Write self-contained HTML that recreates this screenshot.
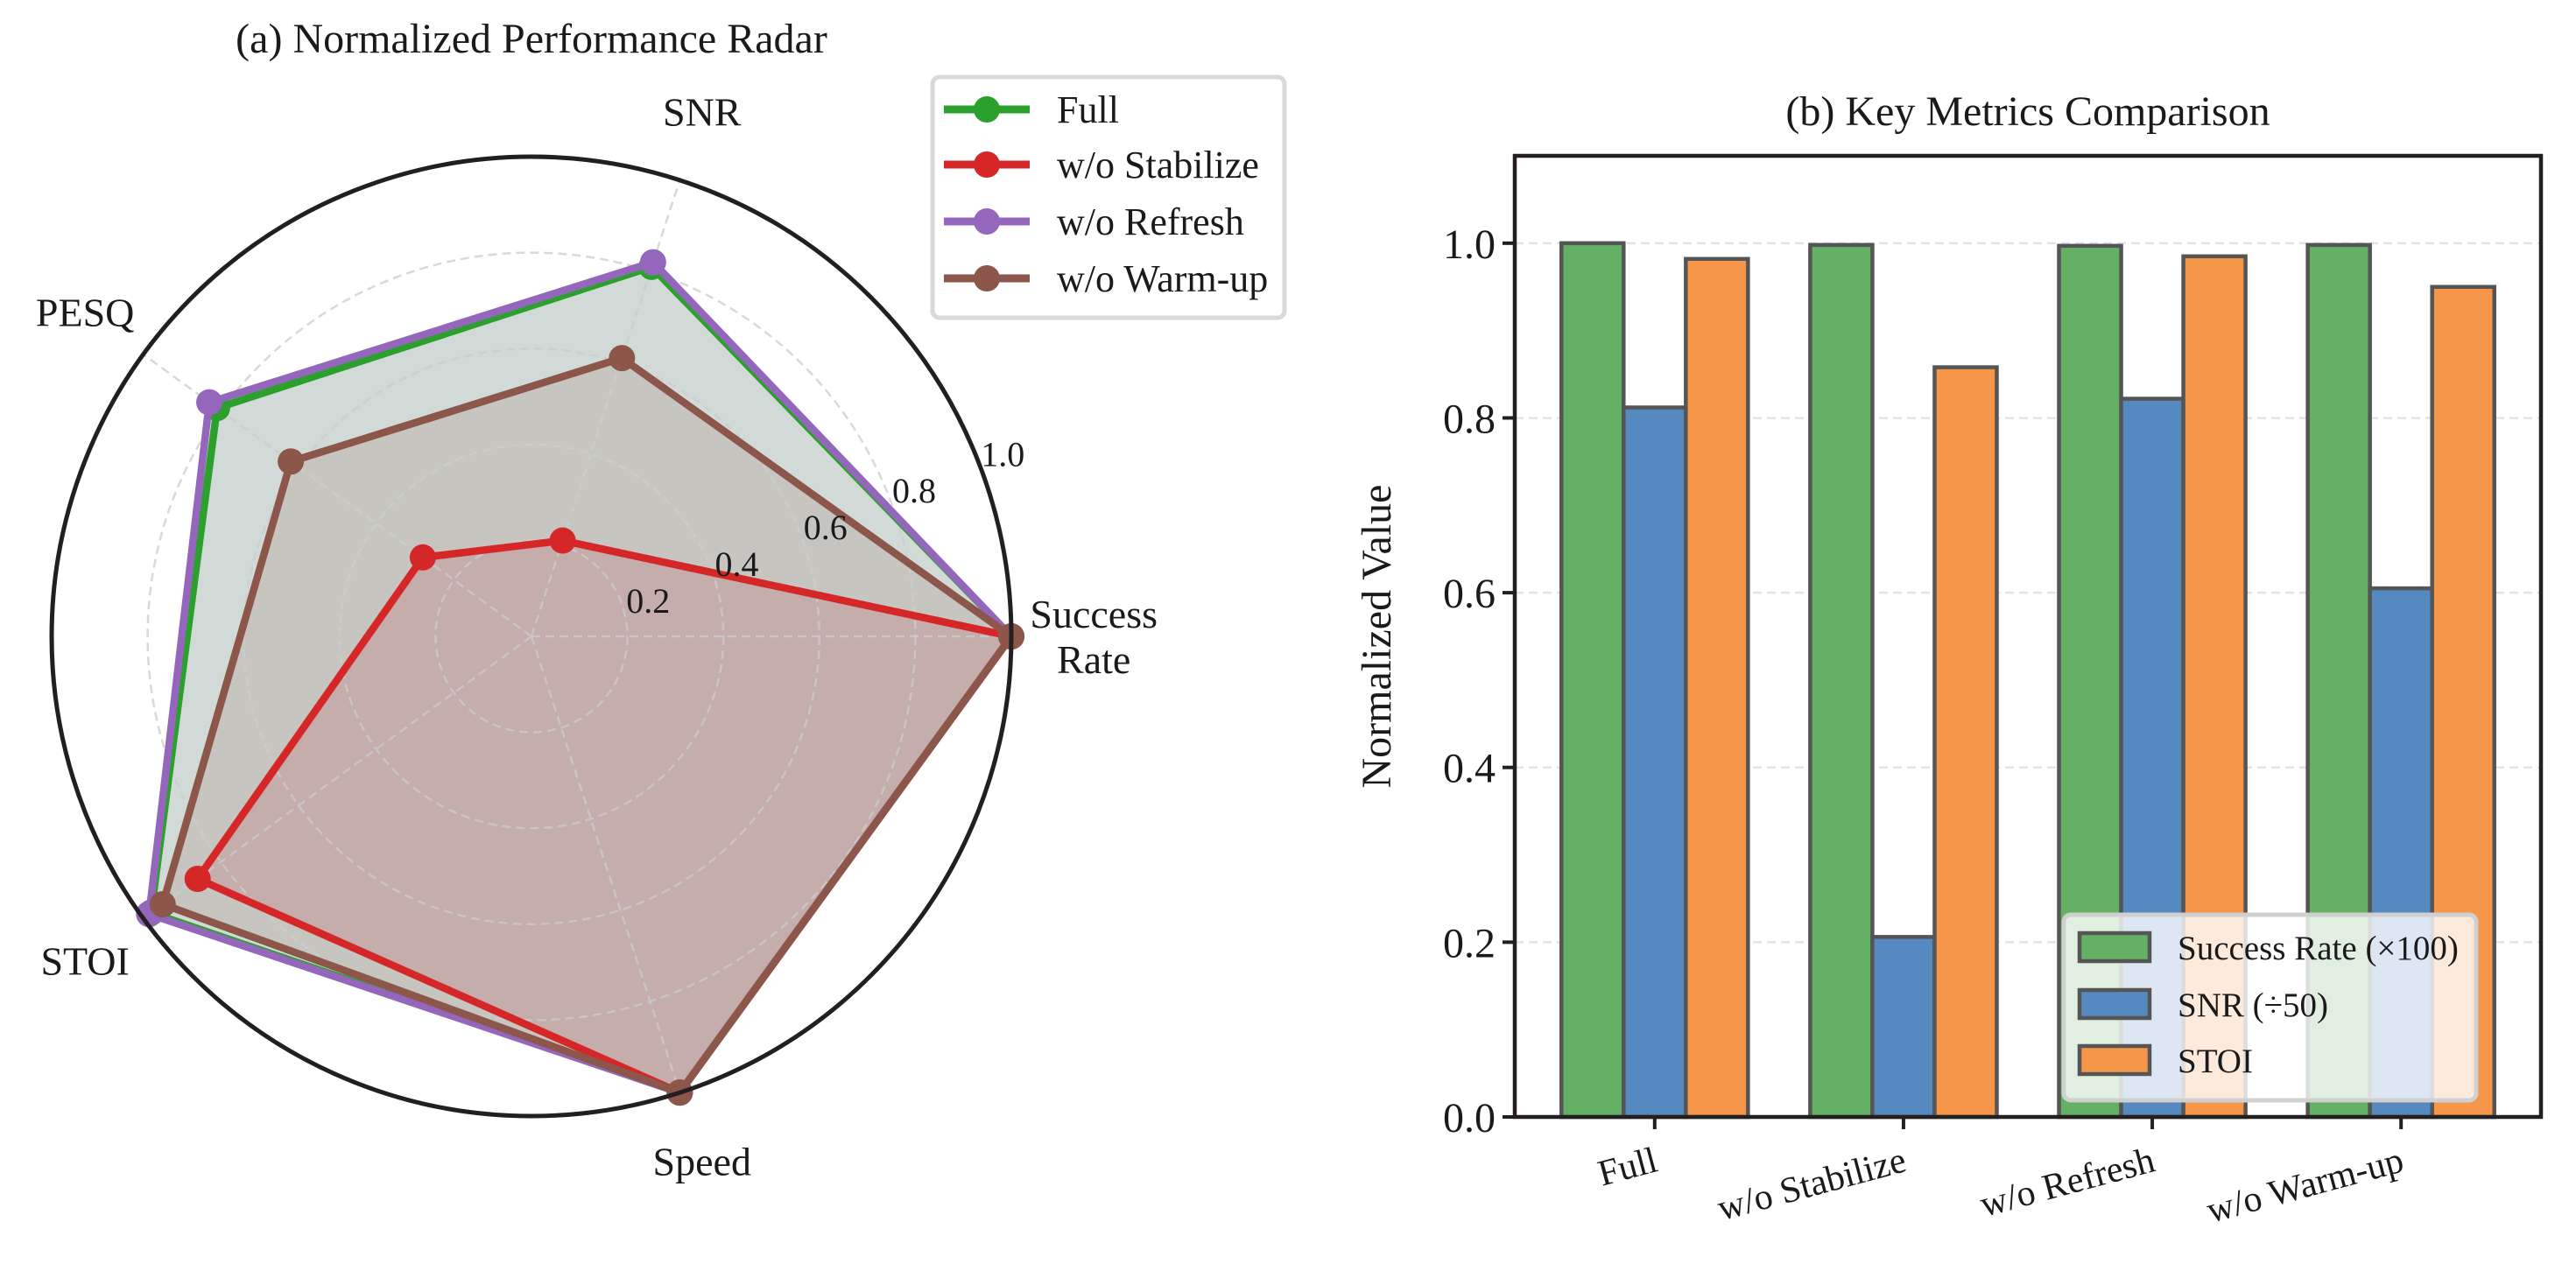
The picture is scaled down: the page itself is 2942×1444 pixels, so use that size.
<!DOCTYPE html>
<html><head><meta charset="utf-8"><style>
html,body{margin:0;padding:0;background:#fff;}
svg{display:block;font-family:"Liberation Serif","DejaVu Serif",serif;}
</style></head><body>
<svg id="fig" width="2942" height="1444" viewBox="0 0 2942 1444" xmlns="http://www.w3.org/2000/svg">
<g id="radar"></g>
<g id="bars"></g>
</svg>
<script>
// ---------- Radar data ----------
const radarAxes = ["Success\nRate", "SNR", "PESQ", "STOI", "Speed"];
const radarSeriesNames = ["Full", "w/o Stabilize", "w/o Refresh", "w/o Warm-up"];
const radarFull = [1.0, 0.81, 0.81, 0.98, 1.0];
const radarStabilize = [1.0, 0.21, 0.28, 0.86, 1.0];
const radarRefresh = [1.0, 0.82, 0.83, 0.985, 1.0];
const radarWarmup = [1.0, 0.61, 0.62, 0.95, 1.0];
const radarTicks = ["0.2", "0.4", "0.6", "0.8", "1.0"];
const radarTickVals = [0.2, 0.4, 0.6, 0.8, 1.0];

// ---------- Bar data ----------
const barCategories = ["Full", "w/o Stabilize", "w/o Refresh", "w/o Warm-up"];
const barSeriesNames = ["Success Rate (×100)", "SNR (÷50)", "STOI"];
const barSuccess = [1.0, 0.998, 0.997, 0.998];
const barSNR = [0.812, 0.206, 0.822, 0.605];
const barSTOI = [0.982, 0.858, 0.985, 0.950];
const barYTicks = [0.0, 0.2, 0.4, 0.6, 0.8, 1.0];
const barYTickLabels = ["0.0", "0.2", "0.4", "0.6", "0.8", "1.0"];

const NS = "http://www.w3.org/2000/svg";
function mk(parent, tag, attrs, text) {
  const e = document.createElementNS(NS, tag);
  for (const k in attrs) e.setAttribute(k, attrs[k]);
  if (text !== undefined) e.textContent = text;
  parent.appendChild(e);
  return e;
}

// ================= RADAR =================
(function () {
  const g = document.getElementById("radar");
  const cx = 607, cy = 727, R = 548;
  const n = radarAxes.length;
  const ang = i => i * 2 * Math.PI / n;
  const px = (i, v) => cx + Math.cos(ang(i)) * v * R;
  const py = (i, v) => cy - Math.sin(ang(i)) * v * R;

  const title = mk(g, "text", {x: 607, y: 60, "text-anchor": "middle", "font-size": 48, fill: "#1a1a1a"}, "(a) Normalized Performance Radar");
  
  

  const colors = ["#2ca02c", "#d62728", "#9467bd", "#8c564b"];
  const series = [radarFull, radarStabilize, radarRefresh, radarWarmup];
  const keys = ["full", "stabilize", "refresh", "warmup"];

  series.forEach((vals, s) => {
    const pts = vals.map((v, i) => px(i, v).toFixed(1) + "," + py(i, v).toFixed(1)).join(" ");
    const f = mk(g, "polygon", {points: pts, fill: colors[s], "fill-opacity": 0.16, stroke: "none"});
    
    
  });

  const grid = mk(g, "g", {});
  
  
  radarTickVals.slice(0, 4).forEach(v => {
    const c = mk(grid, "circle", {cx, cy, r: v * R, fill: "none", stroke: "#cccccc", "stroke-opacity": 0.75, "stroke-width": 2.5, "stroke-dasharray": "10,6"});
    
    
  });
  for (let i = 0; i < n; i++) {
    const l = mk(grid, "line", {x1: cx, y1: cy, x2: px(i, 1), y2: py(i, 1), stroke: "#cccccc", "stroke-opacity": 0.75, "stroke-width": 2.5, "stroke-dasharray": "10,6"});
    
    
  }

  series.forEach((vals, s) => {
    const pts = vals.map((v, i) => px(i, v).toFixed(1) + "," + py(i, v).toFixed(1)).join(" ");
    const l = mk(g, "polygon", {points: pts, fill: "none", stroke: colors[s], "stroke-width": 8.5, "stroke-linejoin": "miter"});
    
    
    vals.forEach((v, i) => {
      const m = mk(g, "circle", {cx: px(i, v), cy: py(i, v), r: 15, fill: colors[s]});
      
      
    });
  });

  const outer = mk(g, "circle", {cx, cy, r: R, fill: "none", stroke: "#231f20", "stroke-width": 5});
  
  

  const ra = 22.5 * Math.PI / 180;
  radarTickVals.forEach((v, k) => {
    const t = mk(g, "text", {x: cx + Math.cos(ra) * v * R + 32, y: cy - Math.sin(ra) * v * R + 15, "text-anchor": "middle", "font-size": 40, fill: "#1a1a1a"}, radarTicks[k]);
    
    
  });

  radarAxes.forEach((lab, i) => {
    const lines = lab.split("\n");
    const x = cx + Math.cos(ang(i)) * 1.15 * R + (lines.length > 1 ? 12 : 0);
    const y = cy - Math.sin(ang(i)) * 1.15 * R;
    const t = mk(g, "text", {x, y: y + 16 - (lines.length - 1) * 26, "text-anchor": "middle", "font-size": 46, fill: "#1a1a1a"});
    
    
    lines.forEach((ln, j) => mk(t, "tspan", {x, dy: j === 0 ? 0 : 52}, ln));
  });

  const lg = mk(g, "g", {});
  
  
  mk(lg, "rect", {x: 1065, y: 88, width: 402, height: 275, rx: 8, fill: "#fff", "fill-opacity": 0.9, stroke: "#d9d9d9", "stroke-width": 5});
  const ly = [125, 188, 253, 318];
  radarSeriesNames.forEach((nm, s) => {
    const e = mk(lg, "g", {});
    
    
    mk(e, "line", {x1: 1078, y1: ly[s], x2: 1176, y2: ly[s], stroke: colors[s], "stroke-width": 9});
    mk(e, "circle", {cx: 1127, cy: ly[s], r: 15, fill: colors[s]});
    mk(e, "text", {x: 1207, y: ly[s] + 15, "font-size": 44, fill: "#1a1a1a"}, nm);
  });
})();

// ================= BARS =================
(function () {
  const g = document.getElementById("bars");
  const L = 1730, Rr = 2902, T = 178, B = 1276;
  const xmin = -0.5625, xmax = 3.5625, ymin = 0, ymax = 1.1;
  const X = v => L + (v - xmin) / (xmax - xmin) * (Rr - L);
  const Y = v => B - (v - ymin) / (ymax - ymin) * (B - T);
  const w = 0.25;

  const title = mk(g, "text", {x: (L + Rr) / 2, y: 143, "text-anchor": "middle", "font-size": 48, fill: "#1a1a1a"}, "(b) Key Metrics Comparison");
  
  

  barYTicks.forEach((v, k) => {
    if (v > 0) {
      const gl = mk(g, "line", {x1: L, y1: Y(v), x2: Rr, y2: Y(v), stroke: "#d0d0d0", "stroke-opacity": 0.6, "stroke-width": 2.5, "stroke-dasharray": "10,6"});
      
      
    }
    const tk = mk(g, "line", {x1: L - 14, y1: Y(v), x2: L, y2: Y(v), stroke: "#231f20", "stroke-width": 4});
    
    
    const t = mk(g, "text", {x: L - 22, y: Y(v) + 17, "text-anchor": "end", "font-size": 48, fill: "#1a1a1a"}, barYTickLabels[k]);
    
    
  });

  const colors = ["#64b064", "#5589c0", "#f59648"];
  const series = [barSuccess, barSNR, barSTOI];
  const keys = ["success", "snr", "stoi"];
  series.forEach((vals, s) => {
    vals.forEach((v, i) => {
      const c = i + (s - 1) * w;
      const r = mk(g, "rect", {x: X(c - w / 2), y: Y(v), width: X(c + w / 2) - X(c - w / 2), height: Y(0) - Y(v), fill: colors[s], stroke: "#555555", "stroke-width": 4.5});
      
      
    });
  });

  barCategories.forEach((c, i) => {
    const tk = mk(g, "line", {x1: X(i), y1: B, x2: X(i), y2: B + 14, stroke: "#231f20", "stroke-width": 4});
    
    
    const t = mk(g, "text", {x: X(i), y: B + 62, "text-anchor": "end", "font-size": 42, fill: "#1a1a1a", transform: `rotate(-15 ${X(i)} ${B + 42})`}, c);
    
    
  });

  const frame = mk(g, "rect", {x: L, y: T, width: Rr - L, height: B - T, fill: "none", stroke: "#231f20", "stroke-width": 4.5});
  
  

  const yl = mk(g, "text", {x: 1588, y: (T + B) / 2, "text-anchor": "middle", "font-size": 48, fill: "#1a1a1a", transform: `rotate(-90 1588 ${(T + B) / 2})`}, "Normalized Value");
  
  

  const lg = mk(g, "g", {});
  
  
  mk(lg, "rect", {x: 2357, y: 1045, width: 471, height: 212, rx: 8, fill: "#fff", "fill-opacity": 0.8, stroke: "#d0d0d0", "stroke-width": 5});
  const ly = [1082, 1147, 1211];
  barSeriesNames.forEach((nm, s) => {
    const e = mk(lg, "g", {});
    
    
    mk(e, "rect", {x: 2375, y: ly[s] - 16, width: 80, height: 32, fill: colors[s], stroke: "#555555", "stroke-width": 4.5});
    mk(e, "text", {x: 2487, y: ly[s] + 14, "font-size": 39, fill: "#1a1a1a"}, nm);
  });
})();
</script>
</body></html>
